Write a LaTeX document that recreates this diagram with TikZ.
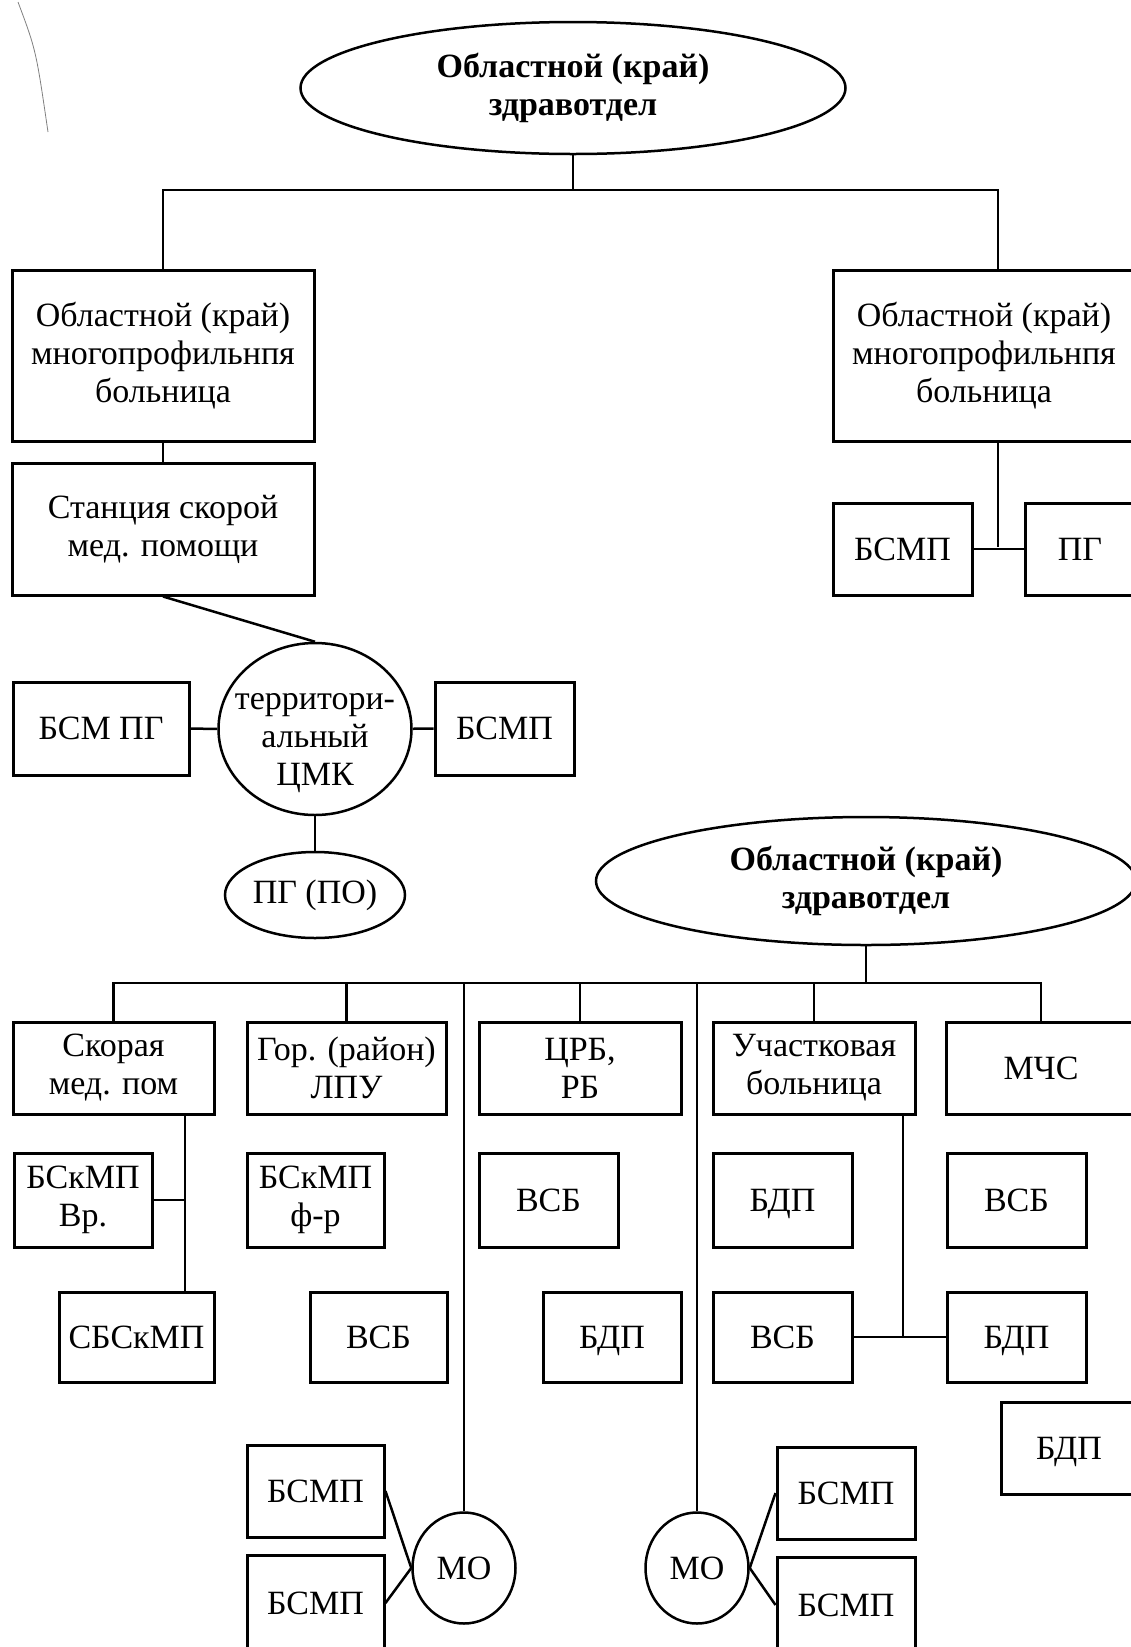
\documentclass[tikz,border=0pt]{standalone}
\usepackage{fontspec}
\setmainfont{Liberation Serif}
\usepackage{tikz}
\usetikzlibrary{shapes.geometric,positioning}

\begin{document}
\begin{tikzpicture}[x=1pt,y=-1pt,
    every node/.style={font=\fontsize{34}{38}\selectfont,align=center,inner sep=0pt},
    box/.style={draw,rectangle,line width=3pt},
    flat/.style={box,text depth=0pt},
    oval/.style={draw,ellipse,line width=2.5pt},
    head/.style={oval,font=\fontsize{34}{38}\selectfont\bfseries},
    link/.style={line width=2.5pt}]
  \useasboundingbox (0,0) rectangle (1131,1647);
  \draw[gray,line width=0.8pt] (18,2) .. controls (36,50) .. (48,132);

  \node[head,minimum width=545pt,minimum height=132pt](obla) at (573,88){Областной (край)\\здравотдел};
  \node[box,minimum width=302pt,minimum height=171pt](hospl) at (163,355.5){Областной (край)\\многопрофильнпя\\больница};
  \node[box,minimum width=302pt,minimum height=171pt](hospr) at (984,355.5){Областной (край)\\многопрофильнпя\\больница};
  \node[box,minimum width=302pt,minimum height=132pt](stat) at (163,529){Станция скорой\\мед. помощи};
  \node[box,minimum width=139pt,minimum height=92pt](bsmpr) at (902.5,549){БСМП};
  \node[box,minimum width=110pt,minimum height=92pt](pgr) at (1080,549){ПГ};
  \coordinate (bust) at (573,190);
  \coordinate (rj) at (998,547);
  \draw[link] (obla) -- (bust);
  \draw[link] (hospl.north) |- (rj |- bust) -- (rj |- hospr.north);
  \draw[link] (rj |- hospr.south) -- (rj);
  \draw[link] (bsmpr.east) -- (pgr.west);
  \draw[link] (hospl) -- (stat);

  \node[oval,minimum width=193pt,minimum height=172pt](cmk) at (315,729){};
  \node (cmkt) at (315,743){территори-\\альный\\ЦМК};
  \node[box,minimum width=176pt,minimum height=93pt](bsmpg) at (101,728.5){БСМ ПГ};
  \node[box,minimum width=139pt,minimum height=93pt](bsmpc) at (504.5,728.5){БСМП};
  \node[oval,minimum width=180pt,minimum height=86pt](pgpo) at (315,895){ПГ (ПО)};
  \draw[link] (stat.south) -- (cmk.north);
  \draw[link] (bsmpg) -- (cmk);
  \draw[link] (cmk) -- (bsmpc);
  \draw[link] (cmk) -- (pgpo);

  \node[head,minimum width=540pt,minimum height=128pt](oblb) at (866,881){Областной (край)\\здравотдел};
  \node[box,minimum width=201pt,minimum height=92pt](skor) at (113.5,1068){Скорая\\мед. пом};
  \node[box,minimum width=199pt,minimum height=92pt](gor) at (346.5,1068){Гор. (район)\\ЛПУ};
  \node[box,minimum width=202pt,minimum height=92pt](crb) at (580,1068){ЦРБ,\\РБ};
  \node[box,minimum width=202pt,minimum height=92pt](uch) at (814,1068){Участковая\\больница};
  \node[box,minimum width=190pt,minimum height=92pt](mchs) at (1041,1068){МЧС};

  \node[box,minimum width=138pt,minimum height=94pt](bskvr) at (83,1200){БСкМП\\Вр.};
  \node[box,minimum width=137pt,minimum height=94pt](bskfr) at (315.5,1200){БСкМП\\ф-р};
  \node[box,minimum width=139pt,minimum height=94pt](vsbc) at (548.5,1200){ВСБ};
  \node[flat,minimum width=139pt,minimum height=94pt](bdpu) at (782.5,1200){БДП};
  \node[box,minimum width=139pt,minimum height=94pt](vsbm) at (1016.5,1200){ВСБ};

  \node[box,minimum width=155pt,minimum height=90pt](sbsk) at (136.5,1337){СБСкМП};
  \node[box,minimum width=137pt,minimum height=90pt](vsbg) at (378.5,1337){ВСБ};
  \node[flat,minimum width=138pt,minimum height=90pt](bdpc) at (612,1337){БДП};
  \node[box,minimum width=139pt,minimum height=90pt](vsbu) at (782.5,1337){ВСБ};
  \node[flat,minimum width=139pt,minimum height=90pt](bdpm) at (1016.5,1337){БДП};
  \node[flat,minimum width=136pt,minimum height=92pt](bdpx) at (1069,1448){БДП};

  \node[oval,minimum width=103pt,minimum height=111pt](mol) at (464,1568){МО};
  \node[oval,minimum width=103pt,minimum height=111pt](mor) at (697,1568){МО};
  \node[box,minimum width=137pt,minimum height=92pt](bsmpl1) at (315.5,1491){БСМП};
  \node[box,minimum width=137pt,minimum height=96pt](bsmpl2) at (315.5,1603){БСМП};
  \node[box,minimum width=138pt,minimum height=92pt](bsmpr1) at (846,1493){БСМП};
  \node[box,minimum width=138pt,minimum height=96pt](bsmpr2) at (846,1605){БСМП};

  \coordinate (busb) at (866,983);
  \coordinate (skj) at (185,1200);
  \coordinate (ucj) at (903,1337);
  \draw[link] (oblb) -- (busb);
  \draw[link] (skor.north) |- (busb) -| (mchs.north);
  \foreach \n in {gor,crb,uch,mol,mor}
    \draw[link] (\n.north) -- (\n.north |- busb);
  \draw[link] (skor.south -| skj) -- (sbsk.north -| skj);
  \draw[link] (bskvr.east) -- (skj);
  \draw[link] (uch.south -| ucj) -- (ucj);
  \draw[link] (vsbu.east) -- (bdpm.west);
  \draw[link] (bsmpl1.east) -- (mol.west);
  \draw[link] (bsmpl2.east) -- (mol.west);
  \draw[link] (mor.east) -- (bsmpr1.west);
  \draw[link] (mor.east) -- (bsmpr2.west);
\end{tikzpicture}
\end{document}
